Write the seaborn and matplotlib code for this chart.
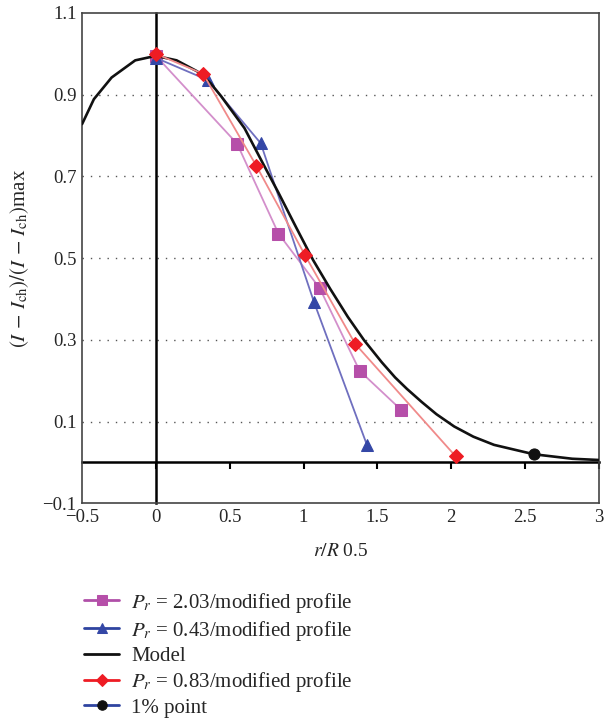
import numpy as np
import pandas as pd
import matplotlib
matplotlib.use('Agg')
import matplotlib.pyplot as plt
import seaborn as sns

# values
model_x = [-0.5, -0.42, -0.30, -0.14, 0.0, 0.14, 0.28, 0.37, 0.44, 0.60, 0.72, 0.83, 0.95,
           1.065, 1.18, 1.30, 1.41, 1.53, 1.62, 1.70, 1.80, 1.90, 2.02, 2.15, 2.29, 2.56, 2.82, 3.0]
model_y = [0.828, 0.889, 0.942, 0.984, 0.995, 0.984, 0.957, 0.928, 0.897, 0.818, 0.735, 0.660, 0.575,
           0.495, 0.425, 0.356, 0.299, 0.245, 0.208, 0.180, 0.148, 0.118, 0.088, 0.063, 0.043, 0.020, 0.009, 0.006]

pr203_x = [0.0, 0.55, 0.83, 1.11, 1.38, 1.66]
pr203_y = [0.995, 0.78, 0.56, 0.426, 0.224, 0.129]

pr043_x = [0.0, 0.35, 0.71, 1.07, 1.43]
pr043_y = [0.99, 0.936, 0.781, 0.393, 0.042]

pr083_x = [0.0, 0.32, 0.68, 1.01, 1.35, 2.03]
pr083_y = [1.0, 0.951, 0.726, 0.507, 0.29, 0.015]

pt1_x = [2.56]
pt1_y = [0.02]

grid_levels = [0.9, 0.7, 0.5, 0.3, 0.1]
x_ticks = [-0.5, 0, 0.5, 1, 1.5, 2, 2.5, 3]
y_ticks = [-0.1, 0.1, 0.3, 0.5, 0.7, 0.9, 1.1]

sns.set_style('white')
plt.rcParams['font.family'] = ['Liberation Serif', 'DejaVu Serif']
plt.rcParams['mathtext.fontset'] = 'stix'

fig = plt.figure(figsize=(6.08, 7.19), dpi=100)
ax = fig.add_axes([0.135, 0.30, 0.85, 0.682])

for g in grid_levels:
    ax.axhline(g, color='#555555', linestyle=(0, (1, 5)), linewidth=1.0, zorder=0)

# zero axes drawn as secondary axes so their ticks come from the scale
sec_x = ax.secondary_xaxis(0.1 / 1.2)
sec_x.set_xticks(x_ticks[1:])
sec_x.tick_params(direction='out', length=5, width=1.5, labelbottom=False, color='black')
sec_x.spines['bottom'].set_linewidth(1.8)
sec_x.spines['bottom'].set_color('black')
sec_y = ax.secondary_yaxis(0.5 / 3.5)
sec_y.set_yticks([])
sec_y.spines['left'].set_linewidth(1.8)
sec_y.spines['left'].set_color('black')

df_203 = pd.DataFrame({'x': pr203_x, 'y': pr203_y})
df_043 = pd.DataFrame({'x': pr043_x, 'y': pr043_y})
df_model = pd.DataFrame({'x': model_x, 'y': model_y})
df_083 = pd.DataFrame({'x': pr083_x, 'y': pr083_y})
df_pt = pd.DataFrame({'x': pt1_x, 'y': pt1_y})

sns.lineplot(data=df_203, x='x', y='y', ax=ax, sort=False, color='#d38fcb', linewidth=1.3,
             marker='s', markersize=8, markerfacecolor='#b64fa9', markeredgecolor='#b64fa9',
             label='$P_r$ = 2.03/modified profile', zorder=3)
sns.lineplot(data=df_043, x='x', y='y', ax=ax, sort=False, color='#6f6fbf', linewidth=1.3,
             marker='^', markersize=9, markerfacecolor='#3447a6', markeredgecolor='#3447a6',
             label='$P_r$ = 0.43/modified profile', zorder=3)
sns.lineplot(data=df_model, x='x', y='y', ax=ax, sort=False, color='#111111', linewidth=1.9,
             label='Model', zorder=4)
sns.lineplot(data=df_083, x='x', y='y', ax=ax, sort=False, color='#f08a8a', linewidth=1.3,
             marker='D', markersize=7, markerfacecolor='#ee1c24', markeredgecolor='#ee1c24',
             label='$P_r$ = 0.83/modified profile', zorder=5)
sns.lineplot(data=df_pt, x='x', y='y', ax=ax, sort=False, color='#3447a6', linewidth=1.3,
             marker='o', markersize=8, markerfacecolor='#111111', markeredgecolor='#111111',
             label='1% point', zorder=6)

ax.set_xlim(-0.5, 3)
ax.set_ylim(-0.1, 1.1)
ax.set_xticks(x_ticks)
ax.set_xticklabels(['\u22120.5', '0', '0.5', '1', '1.5', '2', '2.5', '3'])
ax.set_yticks(y_ticks)
ax.set_yticklabels(['\u22120.1', '0.1', '0.3', '0.5', '0.7', '0.9', '1.1'])
ax.tick_params(axis='both', length=0, labelsize=13.5, pad=4)
for s in ax.spines.values():
    s.set_color('#444444')
    s.set_linewidth(1.2)

ax.set_xlabel('$r/R$ 0.5', fontsize=14, labelpad=12)
ax.set_ylabel('$(I\\,-\\,I_{\\rm ch})/(I\\,-\\,I_{\\rm ch})$max', fontsize=15, labelpad=8)

handles, labels = ax.get_legend_handles_labels()
ax.get_legend().remove()
leg = fig.legend(handles, labels, loc='upper left', bbox_to_anchor=(0.125, 0.19), frameon=False,
                 fontsize=15, handlelength=1.65, handletextpad=0.6, labelspacing=0.19,
                 borderaxespad=0, markerscale=0.85)
legend_line_colors = ['#b04fa8', '#2f44a0', '#111111', '#ee1c24', '#2f44a0']
for h, c in zip(leg.legend_handles, legend_line_colors):
    h.set_color(c)
    h.set_linewidth(2.0)

fig.savefig('out.png', dpi=100)
